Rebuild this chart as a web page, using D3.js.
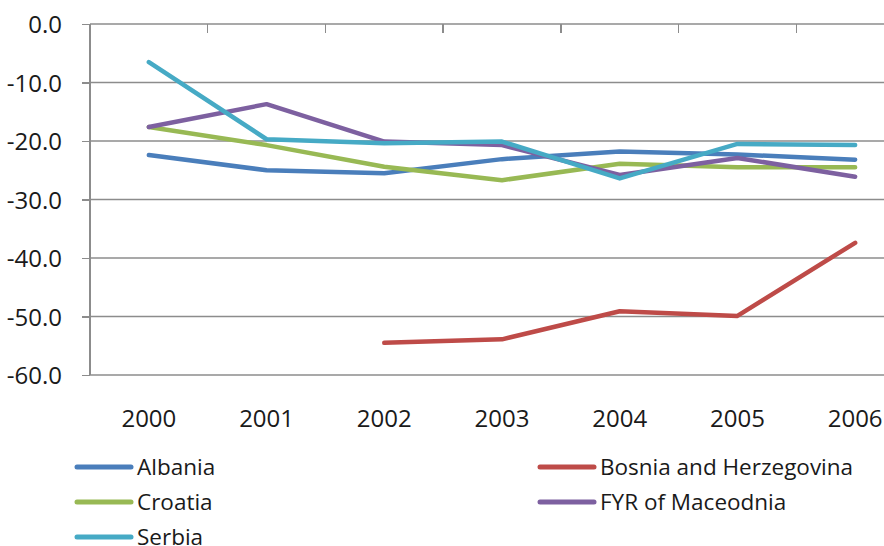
<!DOCTYPE html>
<meta charset="utf-8" />
<style>
  body {
    margin: 0;
    background: #fff;
  }
  svg text {
    font-family: "Open Sans", sans-serif;
    fill: #1a1a1a;
  }
  .grid line {
    stroke: #8c8c8c;
    stroke-width: 1.5;
  }
  .axis path,
  .axis line {
    stroke: #8c8c8c;
    stroke-width: 1.5;
    shape-rendering: crispEdges;
  }
  .series {
    fill: none;
    stroke-width: 4.5;
    stroke-linejoin: round;
    stroke-linecap: round;
  }
</style>
<svg width="884" height="546"></svg>
<script src="https://cdn.jsdelivr.net/npm/d3@7/dist/d3.min.js"></script>
<script>
  var years = ["2000", "2001", "2002", "2003", "2004", "2005", "2006"];
  var yTicks = [0, -10, -20, -30, -40, -50, -60];

  var albania = [-22.4, -25.0, -25.5, -23.1, -21.8, -22.3, -23.2];
  var bosnia = [null, null, -54.5, -53.9, -49.1, -49.9, -37.4];
  var croatia = [-17.6, -20.7, -24.4, -26.7, -23.9, -24.5, -24.5];
  var macedonia = [-17.6, -13.7, -20.1, -20.7, -25.8, -22.9, -26.1];
  var serbia = [-6.5, -19.7, -20.4, -20.1, -26.4, -20.5, -20.7];

  var seriesNames = [
    "Albania",
    "Bosnia and Herzegovina",
    "Croatia",
    "FYR of Maceodnia",
    "Serbia"
  ];
  var seriesValues = [albania, bosnia, croatia, macedonia, serbia];
  var seriesColors = ["#4a7ebb", "#be4b48", "#98b954", "#7d60a0", "#46aac5"];

  var svg = d3.select("svg");

  // plot area runs past the right edge of the picture, like the original
  var plotLeft = 90,
    plotRight = 914,
    plotTop = 24,
    plotBottom = 375;

  var x = d3.scaleBand().domain(years).range([plotLeft, plotRight]);
  var y = d3.scaleLinear().domain([-60, 0]).range([plotBottom, plotTop]);

  // horizontal gridlines
  svg
    .append("g")
    .attr("class", "grid")
    .selectAll("line")
    .data(yTicks)
    .enter()
    .append("line")
    .attr("x1", plotLeft)
    .attr("x2", plotRight)
    .attr("y1", function(d) {
      return y(d);
    })
    .attr("y2", function(d) {
      return y(d);
    });

  // y axis, plain hyphen for the minus sign
  var yAxis = d3
    .axisLeft(y)
    .tickValues(yTicks)
    .tickSize(8)
    .tickPadding(20)
    .tickFormat(function(d) {
      return d.toFixed(1);
    });

  var gy = svg
    .append("g")
    .attr("class", "axis")
    .attr("transform", "translate(" + plotLeft + ",0)")
    .call(yAxis);
  gy.select(".domain").attr("d", "M0," + plotTop + "V" + plotBottom);
  gy.selectAll("text")
    .attr("fill", "#1a1a1a")
    .style("font-size", "24px")
    .attr("dy", "0.36em");

  // category axis sits on the 0 line, ticks point down into the plot
  var boundaries = years.map(function(d) {
    return x(d);
  });
  boundaries.push(plotRight);
  svg
    .append("g")
    .attr("class", "axis")
    .selectAll("line")
    .data(boundaries)
    .enter()
    .append("line")
    .attr("x1", function(d) {
      return d;
    })
    .attr("x2", function(d) {
      return d;
    })
    .attr("y1", plotTop)
    .attr("y2", plotTop + 9);

  // category labels at the bottom
  svg
    .append("g")
    .selectAll("text")
    .data(years)
    .enter()
    .append("text")
    .attr("x", function(d) {
      return x(d) + x.bandwidth() / 2;
    })
    .attr("y", 427)
    .attr("text-anchor", "middle")
    .style("font-size", "24px")
    .text(function(d) {
      return d;
    });

  var line = d3
    .line()
    .defined(function(d) {
      return d != null;
    })
    .x(function(d, i) {
      return x(years[i]) + x.bandwidth() / 2;
    })
    .y(function(d) {
      return y(d);
    });

  svg
    .append("g")
    .selectAll("path")
    .data(seriesValues)
    .enter()
    .append("path")
    .attr("class", "series")
    .attr("stroke", function(d, i) {
      return seriesColors[i];
    })
    .attr("d", line);

  // legend, two columns
  var legendPos = [
    [77, 467],
    [540, 467],
    [77, 502],
    [540, 502],
    [77, 537]
  ];

  var legend = svg
    .append("g")
    .selectAll("g")
    .data(seriesNames)
    .enter()
    .append("g")
    .attr("transform", function(d, i) {
      return "translate(" + legendPos[i][0] + "," + legendPos[i][1] + ")";
    });

  legend
    .append("line")
    .attr("x1", 0)
    .attr("x2", 54)
    .attr("stroke", function(d, i) {
      return seriesColors[i];
    })
    .attr("stroke-width", 5)
    .attr("stroke-linecap", "round");

  legend
    .append("text")
    .attr("x", 60)
    .attr("dy", "0.36em")
    .style("font-size", "22.5px")
    .text(function(d) {
      return d;
    });
</script>
